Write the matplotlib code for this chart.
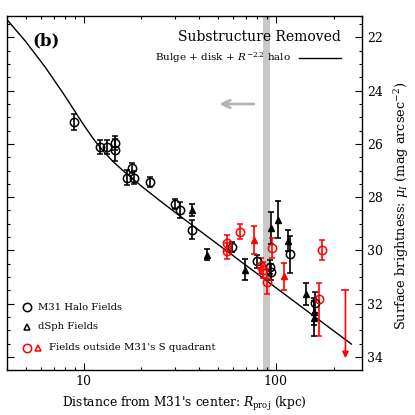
import numpy as np
import matplotlib
matplotlib.use('Agg')
import matplotlib.pyplot as plt
from matplotlib.ticker import LogLocator, NullFormatter, MultipleLocator

plt.rcParams['font.family'] = 'DejaVu Serif'
plt.rcParams['mathtext.fontset'] = 'dejavuserif'

# model curve (bulge + disk + R^-2.2 halo)
model_r = [4.02, 5.01, 6.31, 7.94, 8.91, 10.0, 11.22, 12.59, 14.13, 15.85,
           19.95, 25.1, 31.6, 65.0, 162.5, 247.0]
model_mu = [21.35, 22.16, 23.11, 24.16, 24.72, 25.28, 25.80, 26.25, 26.64, 26.97,
            27.58, 28.15, 28.70, 30.39, 32.54, 33.52]

# M31 halo fields (S quadrant)
halo_r = [8.95, 12.2, 13.3, 14.6, 14.6, 16.8, 17.8, 18.2, 22.2, 29.9, 31.8, 36.8,
          58.9, 79.4, 93.0, 94.2, 118.6, 160.0]
halo_mu = [25.16, 26.12, 26.10, 25.97, 26.23, 27.27, 26.89, 27.27, 27.43, 28.25, 28.50, 29.23,
           29.87, 30.41, 30.62, 30.80, 30.14, 31.97]
halo_err = [0.30, 0.26, 0.26, 0.25, 0.40, 0.28, 0.19, 0.25, 0.17, 0.20, 0.30, 0.36,
            0.20, 0.25, 0.25, 0.30, 0.70, 0.40]

# dSph fields
dsph_r = [36.8, 44.0, 69.0, 94.4, 102.8, 115.9, 142.6, 158.0, 157.0]
dsph_mu = [28.48, 30.16, 30.73, 29.16, 28.85, 29.63, 31.64, 32.30, 32.55]
dsph_err = [0.22, 0.20, 0.40, 0.60, 0.70, 0.38, 0.42, 0.50, 0.65]

# fields outside the S quadrant
out_c_r = [55.5, 55.5, 65.0, 83.4, 86.1, 89.8, 95.6, 174.6, 167.8]
out_c_mu = [29.72, 30.04, 29.29, 30.60, 30.75, 31.20, 29.91, 29.98, 31.82]
out_c_lo = [0.30, 0.30, 0.30, 0.30, 0.30, 0.45, 0.38, 0.37, 0.58]
out_c_hi = [0.30, 0.30, 0.30, 0.30, 0.30, 0.45, 0.38, 0.37, 1.38]
out_t_r = [77.1, 110.0]
out_t_mu = [29.62, 30.97]
out_t_err = [0.53, 0.50]
limit_r = 230.0
limit_mu = [31.5, 34.05]

fig = plt.figure(figsize=(4.15, 4.15), dpi=100)
ax = fig.add_axes([0.017, 0.108, 0.855, 0.853])

ax.axvspan(86, 93, color='#c8c8c8', lw=0, zorder=0)
ax.annotate('', xy=(49.2, 24.5), xytext=(79.4, 24.5),
            arrowprops=dict(arrowstyle='->', color='#b4b4b4', lw=2, mutation_scale=14))

ax.plot(model_r, model_mu, color='k', lw=1.0)

eb = dict(ls='none', capsize=2.5, elinewidth=1.2, capthick=1.2)
ax.errorbar(halo_r, halo_mu, yerr=halo_err, fmt='o', mfc='none', mec='k', ms=6, mew=1.1,
            ecolor='k', **eb)
ax.errorbar(dsph_r, dsph_mu, yerr=dsph_err, fmt='^', mfc='k', mec='k', ms=4,
            ecolor='k', **eb)
ax.errorbar(out_c_r, out_c_mu, yerr=[out_c_lo, out_c_hi], fmt='o', mfc='none', mec='r',
            ms=6, mew=1.1, ecolor='r', **eb)
ax.errorbar(out_t_r, out_t_mu, yerr=out_t_err, fmt='^', mfc='r', mec='r', ms=4,
            ecolor='r', **eb)
ax.annotate('', xy=(limit_r, limit_mu[1]), xytext=(limit_r, limit_mu[0]),
            arrowprops=dict(arrowstyle='-|>', color='r', lw=1.2, mutation_scale=9,
                            shrinkA=0, shrinkB=0))
ax.plot([limit_r], [limit_mu[0]], marker='_', color='r', ms=6, mew=1.2)

ax.set_xscale('log')
ax.set_xlim(4.0, 280)
ax.set_ylim(34.5, 21.2)
ax.set_xticks([10, 100])
ax.set_xticklabels(['10', '100'])
ax.xaxis.set_minor_locator(LogLocator(subs=np.arange(2, 10)))
ax.xaxis.set_minor_formatter(NullFormatter())
ax.yaxis.set_major_locator(MultipleLocator(2))
ax.yaxis.set_minor_locator(MultipleLocator(0.5))
ax.tick_params(which='both', direction='in', top=True, right=True, left=True,
               labelleft=False, labelright=True, labelsize=9, width=0.8)
ax.tick_params(which='major', length=5)
ax.tick_params(which='minor', length=2.5)
for s in ax.spines.values():
    s.set_linewidth(1.0)

ax.yaxis.set_label_position('right')
ax.set_ylabel(r'Surface brightness: $\mu_I$ (mag arcsec$^{-2}$)', fontsize=9.3)
ax.yaxis.set_label_coords(1.085, 0.465)
ax.set_xlabel(r"Distance from M31's center: $R_{\rm proj}$ (kpc)", fontsize=8.8, labelpad=5)

ax.text(0.072, 0.955, '(b)', transform=ax.transAxes, fontsize=12, fontweight='bold',
        va='top', ha='left')
ax.text(0.942, 0.94, 'Substructure Removed', transform=ax.transAxes, fontsize=10,
        va='center', ha='right')
ax.text(0.80, 0.882, 'Bulge + disk + $R^{-2.2}$ halo', transform=ax.transAxes, fontsize=7.5,
        va='center', ha='right')
ax.plot([0.822, 0.942], [0.882, 0.882], color='k', lw=1.0, transform=ax.transAxes)

# hand-made legend
ax.plot([0.056], [0.178], 'o', mfc='none', mec='k', ms=6, mew=1.1, transform=ax.transAxes)
ax.text(0.086, 0.178, 'M31 Halo Fields', transform=ax.transAxes, fontsize=7.2, va='center')
ax.plot([0.056], [0.122], '^', mfc='none', mec='k', ms=5, mew=1.1, transform=ax.transAxes)
ax.text(0.086, 0.122, 'dSph Fields', transform=ax.transAxes, fontsize=7.2, va='center')
ax.plot([0.056], [0.063], 'o', mfc='none', mec='r', ms=6, mew=1.1, transform=ax.transAxes)
ax.plot([0.086], [0.063], '^', mfc='none', mec='r', ms=5, mew=1.1, transform=ax.transAxes)
ax.text(0.117, 0.063, "Fields outside M31's S quadrant", transform=ax.transAxes, fontsize=7.3,
        va='center')

fig.savefig('out.png', dpi=100)
